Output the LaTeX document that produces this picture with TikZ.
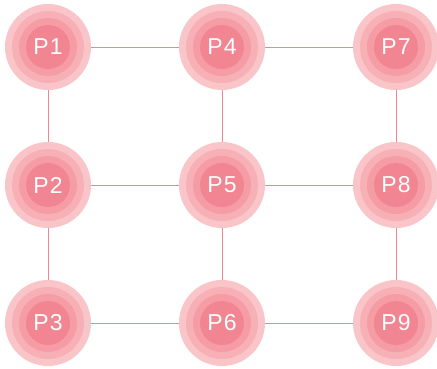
\documentclass[tikz,border=0pt]{standalone}
\usepackage{fontspec}
\setmainfont{Liberation Sans}
\definecolor{ringA}{HTML}{F9C5C8}
\definecolor{ringB}{HTML}{F7B0B6}
\definecolor{ringC}{HTML}{F59CA5}
\definecolor{ringD}{HTML}{F28592}
\definecolor{edgecol}{HTML}{EF8595}
\tikzset{
  pnode/.style={circle, minimum size=86pt, inner sep=0pt, fill=ringA,
    text=white, font=\fontsize{23}{27}\selectfont\addfontfeature{LetterSpace=5},
    path picture={
      \fill[ringB] (path picture bounding box.center) circle (36pt);
      \fill[ringC] (path picture bounding box.center) circle (29pt);
      \fill[ringD] (path picture bounding box.center) circle (22pt);
    }},
  link/.style={draw=edgecol, line width=1pt}
}
\begin{document}
\begin{tikzpicture}[x=1pt,y=-1pt]
  \useasboundingbox (0,0) rectangle (437,368);
  % grid of nodes
  \node[pnode] (p1) at (48,47) {P1};
  \node[pnode] (p2) at (48,185) {P2};
  \node[pnode] (p3) at (48,323) {P3};
  \node[pnode] (p4) at (222,47) {P4};
  \node[pnode] (p5) at (222,185) {P5};
  \node[pnode] (p6) at (222,323) {P6};
  \node[pnode] (p7) at (396,47) {P7};
  \node[pnode] (p8) at (396,185) {P8};
  \node[pnode] (p9) at (396,323) {P9};
  % connections
  \draw[link] (p1) -- (p4);
  \draw[link] (p4) -- (p7);
  \draw[link] (p2) -- (p5);
  \draw[link] (p5) -- (p8);
  \draw[link] (p3) -- (p6);
  \draw[link] (p6) -- (p9);
  \draw[link] (p1) -- (p2);
  \draw[link] (p2) -- (p3);
  \draw[link] (p4) -- (p5);
  \draw[link] (p5) -- (p6);
  \draw[link] (p7) -- (p8);
  \draw[link] (p8) -- (p9);
\end{tikzpicture}
\end{document}
